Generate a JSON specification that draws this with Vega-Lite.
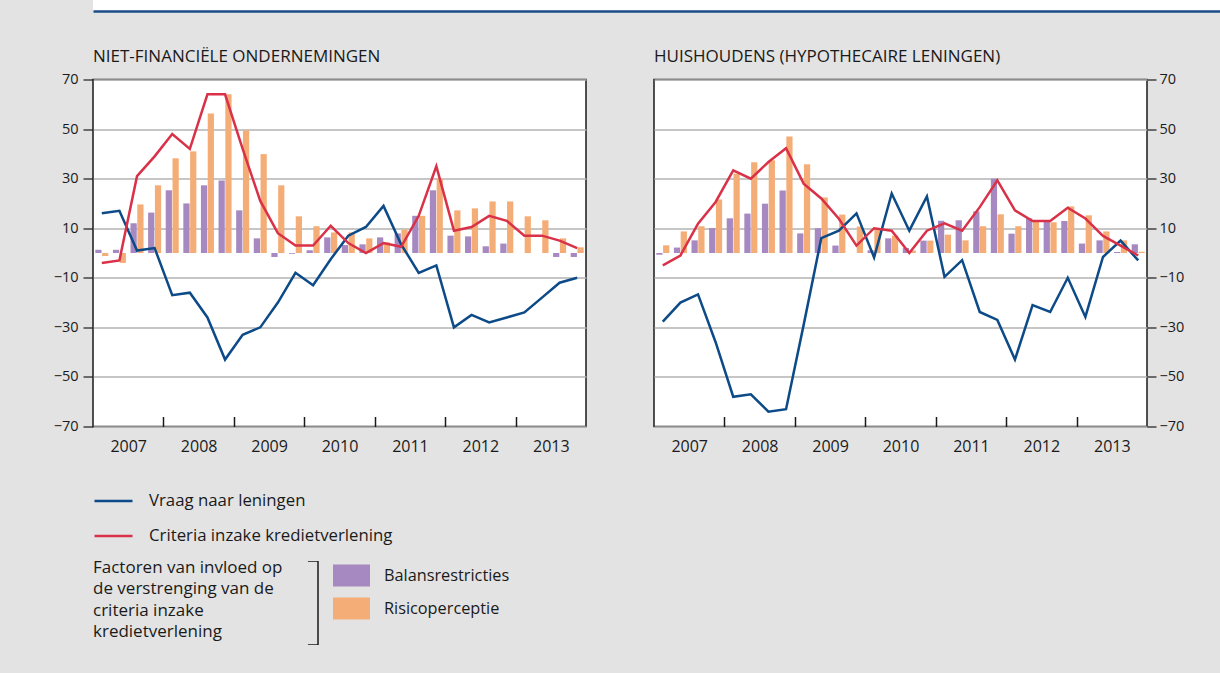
{
  "$schema": "https://vega.github.io/schema/vega-lite/v6.json",
  "background": "#e3e3e3",
  "padding": {"left": 52, "top": 0, "right": 0, "bottom": 28},
  "config": {
    "font": "Open Sans",
    "view": {"fill": "white", "stroke": "#1a1a1a", "strokeWidth": 1.5},
    "axis": {"labelFont": "Open Sans", "labelColor": "#1a1a1a", "tickColor": "#1a1a1a", "domain": false, "labelOverlap": false},
    "legend": {"labelFont": "Open Sans", "labelColor": "#1a1a1a", "titleFont": "Open Sans", "titleColor": "#1a1a1a", "labelLimit": 0, "titleLimit": 0},
    "title": {"font": "Open Sans", "fontSize": 17, "fontWeight": "normal", "color": "#1a1a1a", "anchor": "start", "frame": "group", "offset": 5.5}
  },
  "datasets": {
    "n": [
      {"q": "2007-Q1", "vraag": 16, "criteria": -4, "balans": 1.3, "risico": -1.2},
      {"q": "2007-Q2", "vraag": 17, "criteria": -3, "balans": 1.3, "risico": -4},
      {"q": "2007-Q3", "vraag": 1, "criteria": 31, "balans": 12, "risico": 19.6},
      {"q": "2007-Q4", "vraag": 2, "criteria": 39, "balans": 16.3, "risico": 27.3},
      {"q": "2008-Q1", "vraag": -17, "criteria": 48, "balans": 25.3, "risico": 38.2},
      {"q": "2008-Q2", "vraag": -16, "criteria": 42, "balans": 20, "risico": 41},
      {"q": "2008-Q3", "vraag": -26, "criteria": 64, "balans": 27.3, "risico": 56.3},
      {"q": "2008-Q4", "vraag": -43, "criteria": 64, "balans": 29.3, "risico": 64},
      {"q": "2009-Q1", "vraag": -33, "criteria": 42, "balans": 17.2, "risico": 49.5},
      {"q": "2009-Q2", "vraag": -30, "criteria": 21, "balans": 5.9, "risico": 39.9},
      {"q": "2009-Q3", "vraag": -20, "criteria": 8, "balans": -1.6, "risico": 27.3},
      {"q": "2009-Q4", "vraag": -8, "criteria": 3, "balans": -0.3, "risico": 14.8},
      {"q": "2010-Q1", "vraag": -13, "criteria": 3, "balans": 1.1, "risico": 10.8},
      {"q": "2010-Q2", "vraag": -2.5, "criteria": 11, "balans": 6.3, "risico": 8.3},
      {"q": "2010-Q3", "vraag": 7, "criteria": 4, "balans": 3.2, "risico": 8.3},
      {"q": "2010-Q4", "vraag": 10.5, "criteria": 0, "balans": 3.5, "risico": 5.9},
      {"q": "2011-Q1", "vraag": 19, "criteria": 4, "balans": 6.3, "risico": 4.3},
      {"q": "2011-Q2", "vraag": 3.5, "criteria": 2.5, "balans": 7.9, "risico": 9.4},
      {"q": "2011-Q3", "vraag": -8, "criteria": 15, "balans": 15, "risico": 15},
      {"q": "2011-Q4", "vraag": -5, "criteria": 35, "balans": 25.3, "risico": 30},
      {"q": "2012-Q1", "vraag": -30, "criteria": 9, "balans": 7, "risico": 17.2},
      {"q": "2012-Q2", "vraag": -25, "criteria": 10.5, "balans": 6.7, "risico": 18},
      {"q": "2012-Q3", "vraag": -28, "criteria": 15, "balans": 2.7, "risico": 20.8},
      {"q": "2012-Q4", "vraag": -26, "criteria": 13, "balans": 3.8, "risico": 20.8},
      {"q": "2013-Q1", "vraag": -24, "criteria": 7, "balans": 0, "risico": 14.8},
      {"q": "2013-Q2", "vraag": -18, "criteria": 7, "balans": 0, "risico": 13.2},
      {"q": "2013-Q3", "vraag": -12, "criteria": 5, "balans": -1.6, "risico": 5.9},
      {"q": "2013-Q4", "vraag": -10, "criteria": 2, "balans": -1.6, "risico": 2.3}
    ],
    "h": [
      {"q": "2007-Q1", "vraag": -27.7, "criteria": -5, "balans": -0.7, "risico": 3.1},
      {"q": "2007-Q2", "vraag": -20, "criteria": -1, "balans": 2.2, "risico": 8.7},
      {"q": "2007-Q3", "vraag": -16.7, "criteria": 11.8, "balans": 5.1, "risico": 10.8},
      {"q": "2007-Q4", "vraag": -36, "criteria": 20.6, "balans": 10.1, "risico": 21.6},
      {"q": "2008-Q1", "vraag": -58, "criteria": 33.3, "balans": 14, "risico": 32},
      {"q": "2008-Q2", "vraag": -57, "criteria": 30, "balans": 15.9, "risico": 36.6},
      {"q": "2008-Q3", "vraag": -64, "criteria": 36.7, "balans": 19.9, "risico": 37.4},
      {"q": "2008-Q4", "vraag": -63, "criteria": 42.3, "balans": 25.2, "risico": 47},
      {"q": "2009-Q1", "vraag": -29, "criteria": 28, "balans": 7.9, "risico": 35.8},
      {"q": "2009-Q2", "vraag": 6, "criteria": 22, "balans": 10, "risico": 22.4},
      {"q": "2009-Q3", "vraag": 9, "criteria": 13.8, "balans": 3, "risico": 15.5},
      {"q": "2009-Q4", "vraag": 16, "criteria": 3, "balans": 0, "risico": 10.7},
      {"q": "2010-Q1", "vraag": -1.8, "criteria": 10, "balans": 1.1, "risico": 9.7},
      {"q": "2010-Q2", "vraag": 24, "criteria": 9, "balans": 5.9, "risico": 7},
      {"q": "2010-Q3", "vraag": 9, "criteria": 0, "balans": 2, "risico": 1},
      {"q": "2010-Q4", "vraag": 22.8, "criteria": 9, "balans": 5, "risico": 5},
      {"q": "2011-Q1", "vraag": -9.6, "criteria": 12, "balans": 13, "risico": 7.4},
      {"q": "2011-Q2", "vraag": -2.9, "criteria": 9, "balans": 13.2, "risico": 5.1},
      {"q": "2011-Q3", "vraag": -23.8, "criteria": 18.5, "balans": 16.8, "risico": 10.8},
      {"q": "2011-Q4", "vraag": -27, "criteria": 29.3, "balans": 30, "risico": 15.6},
      {"q": "2012-Q1", "vraag": -43, "criteria": 17.2, "balans": 7.8, "risico": 10.8},
      {"q": "2012-Q2", "vraag": -21, "criteria": 12.9, "balans": 14, "risico": 13.2},
      {"q": "2012-Q3", "vraag": -23.8, "criteria": 12.9, "balans": 12.9, "risico": 12.4},
      {"q": "2012-Q4", "vraag": -10, "criteria": 18.3, "balans": 12.9, "risico": 18.8},
      {"q": "2013-Q1", "vraag": -25.8, "criteria": 13.9, "balans": 3.8, "risico": 15.2},
      {"q": "2013-Q2", "vraag": -1.6, "criteria": 6.9, "balans": 5.1, "risico": 8.7},
      {"q": "2013-Q3", "vraag": 5, "criteria": 3, "balans": 0.4, "risico": 5.1},
      {"q": "2013-Q4", "vraag": -3, "criteria": -1, "balans": 3.5, "risico": 0.5}
    ]
  },
  "spacing": 35.5,
  "vconcat": [
    {
      "width": 1128,
      "height": 11,
      "view": {"fill": "white", "stroke": null},
      "data": {"name": "n"},
      "transform": [{"fold": ["q"], "as": ["groep", "kwartaal"]}],
      "mark": {"type": "point", "size": 0, "filled": true},
      "encoding": {
        "x": {"field": "k", "type": "quantitative", "scale": {"domain": [0, 1]},
          "axis": {"domain": true, "domainColor": "#1b4c8a", "domainWidth": 2.5, "ticks": false, "labels": false, "grid": false, "title": null}},
        "fill": {"field": "groep", "type": "nominal",
          "scale": {"domain": ["balans", "risico"], "range": ["#a689c0", "#f5ad77"]},
          "legend": {"orient": "none", "legendX": 0, "legendY": 564, "padding": 0,
            "title": ["Factoren van invloed op", "de verstrenging van de", "criteria inzake", "kredietverlening"],
            "titleOrient": "left", "titleFontSize": 17, "titleFontWeight": "normal", "titleLineHeight": 21.3,
            "titlePadding": 50, "titleBaseline": "top",
            "symbolType": "M-1,-0.6H1V0.6H-1Z", "symbolSize": 1369, "symbolStrokeWidth": 0, "symbolOpacity": 1,
            "clipHeight": 23, "rowPadding": 10, "labelFontSize": 16.3, "labelOffset": 14,
            "labelExpr": "datum.label == 'balans' ? 'Balansrestricties' : 'Risicoperceptie'"}},
        "stroke": {"field": "q", "type": "nominal",
          "scale": {"domain": ["vraag", "criteria"], "range": ["#0c4a88", "#d93148"]},
          "legend": {"orient": "none", "legendX": 0, "legendY": 491, "padding": 0, "title": null,
            "symbolType": "stroke", "symbolSize": 1444, "symbolStrokeWidth": 2.5, "symbolFillColor": "transparent", "symbolOpacity": 1,
            "clipHeight": 20, "rowPadding": 15, "labelFontSize": 16.8, "labelOffset": 15,
            "labelExpr": "datum.label == 'vraag' ? 'Vraag naar leningen' : 'Criteria inzake kredietverlening'"}},
        "shape": {"field": "kwartaal", "type": "nominal",
          "scale": {"domain": ["q"], "range": ["M-0.24,-1H0V1H-0.24"]},
          "legend": {"orient": "none", "legendX": 182, "legendY": 561, "padding": 0, "title": null,
            "symbolSize": 7056, "symbolStrokeColor": "#1a1a1a", "symbolFillColor": "transparent",
            "symbolStrokeWidth": 1.5, "symbolOpacity": 1, "clipHeight": 84, "labelExpr": "''"}}
      }
    },
    {
      "spacing": 66,
      "hconcat": [
        {
          "width": 493,
          "height": 347,
          "title": {"text": "NIET-FINANCIËLE ONDERNEMINGEN"},
          "data": {"name": "n"},
          "layer": [
            {
              "transform": [{"fold": ["balans", "risico"], "as": ["reeks", "waarde"]}],
              "mark": {"type": "bar"},
              "encoding": {
                "x": {"field": "q", "type": "nominal", "sort": null,
                  "scale": {"paddingInner": 0.26, "paddingOuter": 0.13},
                  "axis": {"orient": "bottom", "title": null,
                    "values": ["2007-Q3","2008-Q1","2008-Q3","2009-Q1","2009-Q3","2010-Q1","2010-Q3","2011-Q1","2011-Q3","2012-Q1","2012-Q3","2013-Q1","2013-Q3"],
                    "tickOffset": -8.8, "labelAngle": 0, "labelFontSize": 16,
                    "labelExpr": "slice(datum.value,5)=='Q3' ? slice(datum.value,0,4) : ''",
                    "tickColor": {"condition": {"test": "slice(datum.value,5)=='Q1'", "value": "#1a1a1a"}, "value": "transparent"},
                    "tickSize": -10, "tickWidth": 1.5, "labelPadding": 22, "grid": false}},
                "xOffset": {"field": "reeks", "type": "nominal", "scale": {"domain": ["balans", "risico"], "paddingInner": 0.08}},
                "y": {"field": "waarde", "type": "quantitative", "scale": {"domain": [-70, 70], "nice": false},
                  "axis": {"orient": "left", "values": [-70,-60,-50,-40,-30,-20,-10,0,10,20,30,40,50,60,70],
                    "tickSize": 10, "tickWidth": 1.2, "labelPadding": 5, "labelFontSize": 14.5,
                    "grid": true, "gridWidth": 1.5,
                    "gridColor": {"condition": {"test": "datum.value === 0", "value": "#1a1a1a"}, "value": "#b3b3b3"},
                    "title": null}},
                "fill": {"field": "reeks", "type": "nominal",
                  "scale": {"domain": ["balans", "risico"], "range": ["#a689c0", "#f5ad77"]}, "legend": null}
              }
            },
            {
              "transform": [{"fold": ["vraag", "criteria"], "as": ["reeks", "waarde"]}],
              "mark": {"type": "line", "strokeWidth": 2.5},
              "encoding": {
                "x": {"field": "q", "type": "nominal", "sort": null},
                "y": {"field": "waarde", "type": "quantitative"},
                "stroke": {"field": "reeks", "type": "nominal",
                  "scale": {"domain": ["vraag", "criteria"], "range": ["#0c4a88", "#d93148"]}, "legend": null}
              }
            }
          ]
        },
        {
          "width": 493,
          "height": 347,
          "title": {"text": "HUISHOUDENS (HYPOTHECAIRE LENINGEN)"},
          "data": {"name": "h"},
          "layer": [
            {
              "transform": [{"fold": ["balans", "risico"], "as": ["reeks", "waarde"]}],
              "mark": {"type": "bar"},
              "encoding": {
                "x": {"field": "q", "type": "nominal", "sort": null,
                  "scale": {"paddingInner": 0.26, "paddingOuter": 0.13},
                  "axis": {"orient": "bottom", "title": null,
                    "values": ["2007-Q3","2008-Q1","2008-Q3","2009-Q1","2009-Q3","2010-Q1","2010-Q3","2011-Q1","2011-Q3","2012-Q1","2012-Q3","2013-Q1","2013-Q3"],
                    "tickOffset": -8.8, "labelAngle": 0, "labelFontSize": 16,
                    "labelExpr": "slice(datum.value,5)=='Q3' ? slice(datum.value,0,4) : ''",
                    "tickColor": {"condition": {"test": "slice(datum.value,5)=='Q1'", "value": "#1a1a1a"}, "value": "transparent"},
                    "tickSize": -10, "tickWidth": 1.5, "labelPadding": 22, "grid": false}},
                "xOffset": {"field": "reeks", "type": "nominal", "scale": {"domain": ["balans", "risico"], "paddingInner": 0.08}},
                "y": {"field": "waarde", "type": "quantitative", "scale": {"domain": [-70, 70], "nice": false},
                  "axis": {"orient": "right", "values": [-70,-60,-50,-40,-30,-20,-10,0,10,20,30,40,50,60,70],
                    "tickSize": 9, "tickWidth": 1.2, "labelPadding": 3, "labelFontSize": 14.5,
                    "grid": true, "gridWidth": 1.5,
                    "gridColor": {"condition": {"test": "datum.value === 0", "value": "#1a1a1a"}, "value": "#b3b3b3"},
                    "title": null}},
                "fill": {"field": "reeks", "type": "nominal",
                  "scale": {"domain": ["balans", "risico"], "range": ["#a689c0", "#f5ad77"]}, "legend": null}
              }
            },
            {
              "transform": [{"fold": ["vraag", "criteria"], "as": ["reeks", "waarde"]}],
              "mark": {"type": "line", "strokeWidth": 2.5},
              "encoding": {
                "x": {"field": "q", "type": "nominal", "sort": null},
                "y": {"field": "waarde", "type": "quantitative"},
                "stroke": {"field": "reeks", "type": "nominal",
                  "scale": {"domain": ["vraag", "criteria"], "range": ["#0c4a88", "#d93148"]}, "legend": null}
              }
            }
          ]
        }
      ]
    }
  ]
}
